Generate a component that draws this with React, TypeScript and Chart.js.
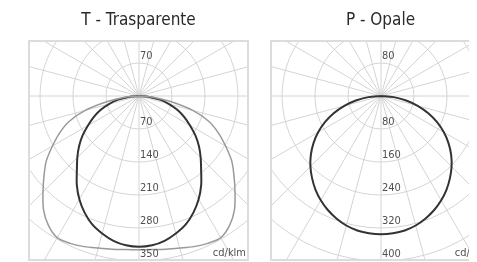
import React, { useEffect, useRef } from "react";
import { Chart, registerables } from "chart.js";

Chart.register(...registerables);

// Angles from nadir (degrees), symmetric curves
const ANGLES = [0, 5, 10, 15, 20, 25, 30, 35, 40, 45, 50, 55, 60, 65, 70, 75, 80, 85, 90];

// T - Trasparente (cd/klm)
const T_C0_180 = [320, 318, 312, 302, 290, 273, 253, 230, 205, 185, 166, 146, 125, 106, 87, 66, 45, 22, 0];
const T_C90_270 = [326, 327, 330, 334, 340, 345, 347, 335, 315, 288, 263, 240, 212, 186, 158, 118, 68, 30, 0];
const T_RINGS = [70, 140, 210, 280, 350];

// P - Opale (cd/klm)
const P_C0_180 = [335, 334, 331, 325, 316, 305, 292, 277, 260, 242, 222, 200, 176, 150, 122, 92, 62, 31, 0];
const P_RINGS = [80, 160, 240, 320, 400];

const UNIT = "cd/klm";
const TITLES = ["T - Trasparente", "P - Opale"];

// layout (pixels)
const PX_PER_RING = 33;
const AREA = 219;
const CENTER_LEFT = 110;
const CENTER_TOP = 55;
const SPOKE_STEP = 15;

const FONT = "'Liberation Sans Narrow', 'DejaVu Sans Condensed', 'Arial Narrow', Arial, sans-serif";

function toPoints(angles: number[], values: number[]) {
  const pts: { x: number; y: number }[] = [];
  for (let i = angles.length - 1; i >= 0; i--) {
    const a = (-angles[i] * Math.PI) / 180;
    pts.push({ x: values[i] * Math.sin(a), y: -values[i] * Math.cos(a) });
  }
  for (let i = 1; i < angles.length; i++) {
    const a = (angles[i] * Math.PI) / 180;
    pts.push({ x: values[i] * Math.sin(a), y: -values[i] * Math.cos(a) });
  }
  return pts;
}

type Curve = { values: number[]; color: string; width: number };

function PolarChart({ title, rings, curves, left }: { title: string; rings: number[]; curves: Curve[]; left: number }) {
  const ref = useRef<HTMLCanvasElement>(null);
  useEffect(() => {
    const step = rings[0];
    const xMin = (-CENTER_LEFT / PX_PER_RING) * step;
    const xMax = ((AREA - CENTER_LEFT) / PX_PER_RING) * step;
    const yMax = (CENTER_TOP / PX_PER_RING) * step;
    const yMin = (-(AREA - CENTER_TOP) / PX_PER_RING) * step;

    const gridPlugin = {
      id: "polarGrid",
      beforeDatasetsDraw(chart: any) {
        const { ctx, chartArea: ca, scales } = chart;
        const xs = scales.x, ys = scales.y;
        const cx = xs.getPixelForValue(0);
        const cy = ys.getPixelForValue(0);
        const pr = (v: number) => Math.abs(xs.getPixelForValue(v) - cx);
        ctx.save();
        ctx.beginPath();
        ctx.rect(ca.left, ca.top, ca.right - ca.left, ca.bottom - ca.top);
        ctx.clip();
        ctx.strokeStyle = "#d4d4d4";
        ctx.lineWidth = 1;
        for (let k = 1; k <= 8; k++) {
          ctx.beginPath();
          ctx.arc(cx, cy, pr(k * step), 0, Math.PI * 2);
          ctx.stroke();
        }
        const L = pr(10 * step);
        for (let a = 0; a < 360; a += SPOKE_STEP) {
          const r = (a * Math.PI) / 180;
          ctx.beginPath();
          ctx.moveTo(cx, cy);
          ctx.lineTo(cx + L * Math.cos(r), cy + L * Math.sin(r));
          ctx.stroke();
        }
        ctx.restore();
        ctx.save();
        ctx.strokeStyle = "#dcdcdc";
        ctx.lineWidth = 2;
        ctx.strokeRect(ca.left, ca.top, ca.right - ca.left, ca.bottom - ca.top);
        ctx.restore();
      },
      afterDatasetsDraw(chart: any) {
        const { ctx, chartArea: ca, scales } = chart;
        const xs = scales.x, ys = scales.y;
        const cx = xs.getPixelForValue(0);
        ctx.save();
        ctx.font = "11px " + FONT;
        ctx.fillStyle = "#505050";
        ctx.textAlign = "left";
        ctx.textBaseline = "middle";
        ctx.fillText(String(rings[0]), cx + 1, ys.getPixelForValue(rings[0]) - 7);
        rings.forEach((v) => {
          ctx.fillText(String(v), cx + 1, ys.getPixelForValue(-v) - 7);
        });
        ctx.textAlign = "right";
        ctx.fillText(UNIT, ca.right - 2, ca.bottom - 7);
        ctx.restore();
      },
    };

    const chart = new Chart(ref.current as HTMLCanvasElement, {
      type: "scatter",
      data: {
        datasets: curves.map((c) => ({
          data: toPoints(ANGLES, c.values),
          showLine: true,
          borderColor: c.color,
          borderWidth: c.width,
          pointRadius: 0,
          tension: 0.3,
          fill: false,
        })),
      },
      options: {
        animation: false,
        responsive: false,
        layout: { padding: { left: 21, right: 5, top: 0, bottom: 2 } },
        plugins: {
          legend: { display: false },
          tooltip: { enabled: false },
          title: {
            display: true,
            text: title,
            color: "#2a2a2a",
            font: { family: FONT, size: 17, weight: "normal", lineHeight: 1.2 },
            padding: { top: 2, bottom: 10.6 },
          },
        },
        scales: {
          x: { type: "linear", min: xMin, max: xMax, display: false },
          y: { type: "linear", min: yMin, max: yMax, display: false },
        },
      },
      plugins: [gridPlugin],
    } as any);
    return () => chart.destroy();
  }, []);
  return (
    <canvas
      ref={ref}
      width={245}
      height={254}
      style={{ position: "absolute", left, top: 0, width: 245, height: 254 }}
    />
  );
}

export default function App() {
  return (
    <div style={{ position: "relative", width: 469, height: 254, overflow: "hidden" }}>
      <PolarChart
        title={TITLES[0]}
        rings={T_RINGS}
        left={0}
        curves={[
          { values: T_C90_270, color: "#9a9a9a", width: 1.5 },
          { values: T_C0_180, color: "#333333", width: 2 },
        ]}
      />
      <PolarChart
        title={TITLES[1]}
        rings={P_RINGS}
        left={242}
        curves={[{ values: P_C0_180, color: "#333333", width: 2 }]}
      />
    </div>
  );
}
